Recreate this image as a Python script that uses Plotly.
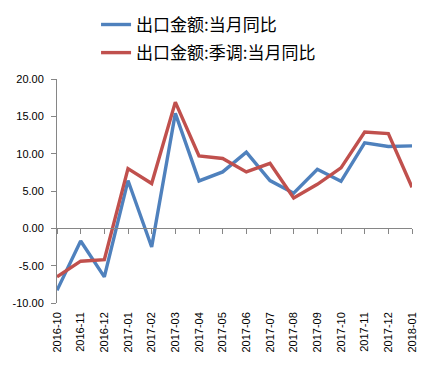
import plotly.graph_objects as go

months = ["2016-10", "2016-11", "2016-12", "2017-01", "2017-02", "2017-03", "2017-04",
          "2017-05", "2017-06", "2017-07", "2017-08", "2017-09", "2017-10", "2017-11",
          "2017-12", "2018-01"]
export_yoy = [-8.3, -1.7, -6.5, 6.4, -2.5, 15.4, 6.35, 7.56, 10.2, 6.4, 4.7, 7.9, 6.3, 11.45, 10.96, 11.05]
export_sa_yoy = [-6.5, -4.4, -4.2, 8.0, 6.0, 16.9, 9.7, 9.35, 7.56, 8.7, 4.07, 5.9, 8.1, 12.9, 12.7, 5.5]
y_ticks = [-10, -5, 0, 5, 10, 15, 20]
y_tick_labels = ["-10.00", "-5.00", "0.00", "5.00", "10.00", "15.00", "20.00"]

names = ["出口金额:当月同比", "出口金额:季调:当月同比"]
colors = ["#4F81BD", "#C0504D"]

idx = list(range(len(months)))
fig = go.Figure()
for i, (vals, name, c) in enumerate([(export_yoy, names[0], colors[0]),
                                      (export_sa_yoy, names[1], colors[1])]):
    fig.add_trace(go.Scatter(x=idx, y=vals, mode="lines", name=name,
                             legendgroup=f"g{i}",
                             line=dict(color=c, width=3.4)))

axis_gray = "#868686"
tick_font = dict(family="Liberation Sans, Arial, sans-serif", size=11, color="#000000")

fig.update_layout(
    width=428, height=366,
    margin=dict(l=57, r=16, t=79, b=63, autoexpand=False),
    paper_bgcolor="white", plot_bgcolor="white",
    showlegend=True,
    legend=dict(x=0.11, y=0.981, xref="paper", yref="container", xanchor="left", yanchor="top",
                font=dict(family="Noto Sans CJK SC, sans-serif", size=17, color="#000000"),
                traceorder="grouped", tracegroupgap=3, bgcolor="rgba(0,0,0,0)"),
    xaxis=dict(range=[0, len(months) - 1], anchor="free", position=1/3,
               showline=True, linecolor=axis_gray, linewidth=1,
               ticks="outside", ticklen=5, tickcolor=axis_gray, automargin=False,
               tickvals=idx, showticklabels=False, showgrid=False, zeroline=False),
    xaxis2=dict(range=[0, len(months) - 1], overlaying="x", anchor="y", side="bottom",
                tickvals=idx, ticktext=months, tickangle=-90, tickfont=tick_font,
                automargin=False, ticklabelstandoff=6,
                showline=False, ticks="", showgrid=False, zeroline=False),
    yaxis=dict(range=[-10, 20], tickvals=y_ticks, ticktext=y_tick_labels,
               tickfont=tick_font, showline=True, linecolor=axis_gray, linewidth=1,
               ticks="outside", ticklen=5, tickcolor=axis_gray, automargin=False,
               ticklabelstandoff=5, showgrid=False, zeroline=False),
)
# invisible trace so xaxis2 renders
fig.add_trace(go.Scatter(x=idx, y=[None] * len(idx), xaxis="x2", yaxis="y",
                         showlegend=False, hoverinfo="skip"))
fig.write_html("out.html", config={"displayModeBar": False},
               post_script="document.body.style.margin='0';document.body.style.padding='0';")
